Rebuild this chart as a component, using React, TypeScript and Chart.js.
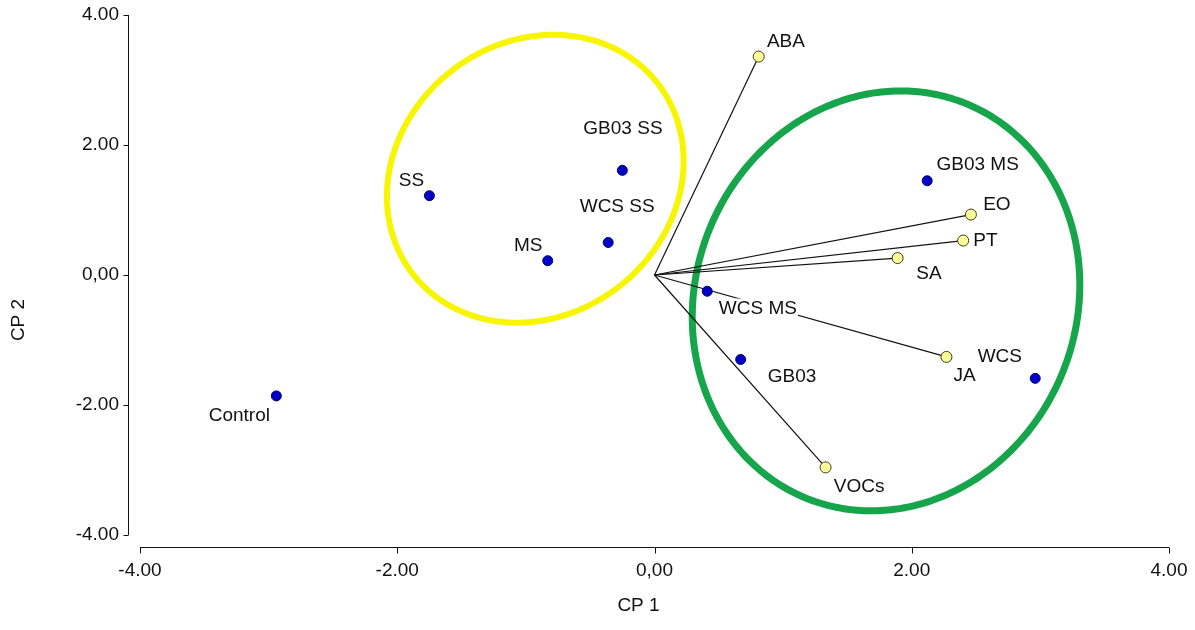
import { useEffect, useRef } from "react";
import { Chart, registerables } from "chart.js";

Chart.register(...registerables);

// ---- Data ----
const observationNames = ["Control", "SS", "MS", "WCS SS", "GB03 SS", "WCS MS", "GB03", "GB03 MS", "WCS"];
const observationCP1 = [-2.94, -1.75, -0.83, -0.36, -0.25, 0.41, 0.67, 2.12, 2.96];
const observationCP2 = [-1.86, 1.22, 0.22, 0.5, 1.61, -0.25, -1.3, 1.45, -1.59];

const variableNames = ["ABA", "EO", "PT", "SA", "JA", "VOCs"];
const variableCP1 = [0.81, 2.46, 2.4, 1.89, 2.27, 1.33];
const variableCP2 = [3.36, 0.93, 0.53, 0.26, -1.26, -2.96];

const tickValues = [-4, -2, 0, 2, 4];
const xTickLabels = ["-4.00", "-2.00", "0,00", "2.00", "4.00"];
const yTickLabels = ["-4.00", "-2.00", "0,00", "2.00", "4.00"];

const xTitle = "CP 1";
const yTitle = "CP 2";

// ---- Annotation layout (label offsets in px from their point) ----
const observationLabelOffsets: [number, number][] = [
  [-37, 18], [-18, -17], [-19.5, -16.5], [9, -37], [0.6, -43], [50.6, 16.3], [51.3, 15.3], [50.5, -18], [-35.4, -23],
];
const variableLabelOffsets: [number, number][] = [
  [27.2, -16.4], [26, -11.3], [22.3, -1.7], [31.3, 14.2], [18.2, 17.7], [33.6, 17.8],
];
const maskedLabels = ["WCS MS"];

// Group outlines, in data units: centre + two conjugate half-axis vectors
const groupOutlines = [
  { cx: -0.927, cy: 1.481, ux: 1.153, uy: 0.33, vx: 0.03, vy: -2.19, color: "#F7F500", width: 6 },
  { cx: 1.80, cy: -0.398, ux: 1.506, uy: 0.16, vx: -0.04, vy: -3.226, color: "#16A54A", width: 7 },
];

const FONT = '"Liberation Sans", Arial, sans-serif';

const decorPlugin = {
  id: "pcaDecor",
  beforeDatasetsDraw(chart: any) {
    const { ctx, scales } = chart;
    const xs = scales.x, ys = scales.y;
    for (const e of groupOutlines) {
      ctx.save();
      ctx.beginPath();
      for (let i = 0; i <= 360; i++) {
        const t = (i * Math.PI) / 180;
        const dx = e.cx + e.ux * Math.cos(t) + e.vx * Math.sin(t);
        const dy = e.cy + e.uy * Math.cos(t) + e.vy * Math.sin(t);
        const px = xs.getPixelForValue(dx);
        const py = ys.getPixelForValue(dy);
        if (i === 0) ctx.moveTo(px, py);
        else ctx.lineTo(px, py);
      }
      ctx.closePath();
      ctx.lineWidth = e.width;
      ctx.strokeStyle = e.color;
      ctx.stroke();
      ctx.restore();
    }
  },
  afterDatasetsDraw(chart: any) {
    const { ctx, scales } = chart;
    const xs = scales.x, ys = scales.y;
    ctx.save();
    ctx.font = `19px ${FONT}`;
    ctx.fillStyle = "#111";
    ctx.textAlign = "center";
    ctx.textBaseline = "alphabetic";
    const drawLabel = (name: string, vx: number, vy: number, off: [number, number]) => {
      const px = xs.getPixelForValue(vx) + off[0];
      const py = ys.getPixelForValue(vy) + off[1];
      const w = ctx.measureText(name).width;
      if (maskedLabels.includes(name)) {
        ctx.fillStyle = "#fff";
        ctx.fillRect(px - w / 2 - 1, py - 9, w + 2, 18);
        ctx.fillStyle = "#111";
      }
      ctx.fillText(name, px, py + 6.8);
    };
    observationNames.forEach((n, i) => drawLabel(n, observationCP1[i], observationCP2[i], observationLabelOffsets[i]));
    variableNames.forEach((n, i) => drawLabel(n, variableCP1[i], variableCP2[i], variableLabelOffsets[i]));
    ctx.restore();
  },
  afterDraw(chart: any) {
    const { ctx, scales, chartArea } = chart;
    const xs = scales.x, ys = scales.y;
    ctx.save();
    ctx.strokeStyle = "#111";
    ctx.lineWidth = 1;
    // y axis
    const ax = Math.round(chartArea.left - 12) + 0.5;
    ctx.beginPath();
    ctx.moveTo(ax, ys.getPixelForValue(tickValues[tickValues.length - 1]));
    ctx.lineTo(ax, ys.getPixelForValue(tickValues[0]));
    for (const v of tickValues) {
      const py = Math.round(ys.getPixelForValue(v)) + 0.5;
      ctx.moveTo(ax - 5, py);
      ctx.lineTo(ax, py);
    }
    ctx.stroke();
    // x axis
    const ay = Math.round(chartArea.bottom + 12) + 0.5;
    ctx.beginPath();
    ctx.moveTo(xs.getPixelForValue(tickValues[0]), ay);
    ctx.lineTo(xs.getPixelForValue(tickValues[tickValues.length - 1]), ay);
    for (const v of tickValues) {
      const px = Math.round(xs.getPixelForValue(v)) + 0.5;
      ctx.moveTo(px, ay);
      ctx.lineTo(px, ay + 6);
    }
    ctx.stroke();
    // axis titles
    ctx.fillStyle = "#111";
    ctx.font = `19px ${FONT}`;
    ctx.textAlign = "center";
    ctx.textBaseline = "middle";
    ctx.fillText(xTitle, chartArea.left + chartArea.width / 2 - 16, 606);
    ctx.translate(19, 320);
    ctx.rotate(-Math.PI / 2);
    ctx.fillText(yTitle, 0, 0);
    ctx.restore();
  },
};

const zeroPadding = (s: any) => {
  s.paddingTop = 0;
  s.paddingBottom = 0;
  s.paddingLeft = 0;
  s.paddingRight = 0;
};

export default function App() {
  const canvasRef = useRef<HTMLCanvasElement | null>(null);

  useEffect(() => {
    const canvas = canvasRef.current;
    if (!canvas) return;

    const vectorDatasets = variableNames.map((n, i) => ({
      type: "line" as const,
      label: `${n} vector`,
      data: [
        { x: 0, y: 0 },
        { x: variableCP1[i], y: variableCP2[i] },
      ],
      borderColor: "#111",
      borderWidth: 1.2,
      pointRadius: 0,
      showLine: true,
      fill: false,
      order: 3,
    }));

    const chart = new Chart(canvas, {
      type: "scatter",
      data: {
        datasets: [
          {
            label: "Observations",
            data: observationCP1.map((x, i) => ({ x, y: observationCP2[i] })),
            backgroundColor: "#0000C8",
            borderColor: "#00006A",
            borderWidth: 1,
            pointRadius: 5,
            order: 0,
          },
          {
            label: "Variables",
            data: variableCP1.map((x, i) => ({ x, y: variableCP2[i] })),
            backgroundColor: "#FFFF99",
            borderColor: "#3A3A20",
            borderWidth: 1,
            pointRadius: 5.5,
            order: 1,
          },
          ...vectorDatasets,
        ] as any,
      },
      options: {
        animation: false,
        responsive: false,
        devicePixelRatio: 1,
        layout: { padding: { top: 15, right: 26, left: 0, bottom: 0 } },
        plugins: { legend: { display: false }, tooltip: { enabled: false } },
        scales: {
          x: {
            type: "linear",
            min: -4,
            max: 4,
            afterBuildTicks: (s: any) => {
              s.ticks = tickValues.map((v) => ({ value: v }));
            },
            afterFit: (s: any) => {
              s.height = 95;
              zeroPadding(s);
            },
            grid: { display: false, drawTicks: false },
            border: { display: false },
            ticks: {
              autoSkip: false,
              maxRotation: 0,
              padding: 24,
              color: "#111",
              font: { family: FONT, size: 19 },
              callback: (v: any) => xTickLabels[tickValues.indexOf(Number(v))],
            },
          },
          y: {
            type: "linear",
            min: -4,
            max: 4,
            afterBuildTicks: (s: any) => {
              s.ticks = tickValues.map((v) => ({ value: v }));
            },
            afterFit: (s: any) => {
              s.width = 140;
              zeroPadding(s);
            },
            grid: { display: false, drawTicks: false },
            border: { display: false },
            ticks: {
              autoSkip: false,
              padding: 21,
              color: "#111",
              font: { family: FONT, size: 19 },
              callback: (v: any) => yTickLabels[tickValues.indexOf(Number(v))],
            },
          },
        },
      },
      plugins: [decorPlugin],
    });

    return () => chart.destroy();
  }, []);

  return (
    <div style={{ position: "absolute", left: 0, top: 0, width: 1195, height: 630, background: "#fff" }}>
      <canvas ref={canvasRef} width={1195} height={630} style={{ display: "block" }} />
    </div>
  );
}
